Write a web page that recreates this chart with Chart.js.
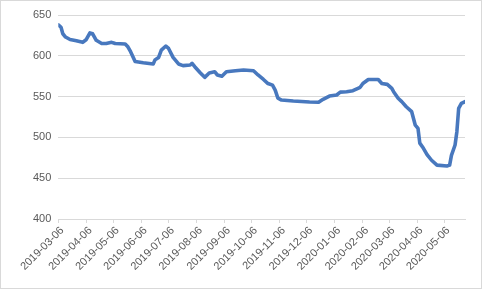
<!DOCTYPE html>
<html>
<head>
<meta charset="utf-8">
<script src="https://cdn.jsdelivr.net/npm/chart.js@4.4.1/dist/chart.umd.min.js"></script>
<style>
  html, body { margin: 0; padding: 0; background: #fff; }
  #box { position: absolute; left: 0; top: 0; width: 480px; height: 287px; border: 1px solid #d9d9d9; }
  canvas { display: block; }
</style>
</head>
<body>
<div id="box"><canvas id="myChart" width="480" height="287"></canvas></div>
<script>
const dates = [
  '2019-03-06', '2019-03-09', '2019-03-11', '2019-03-14', '2019-03-19', '2019-03-26',
  '2019-04-02', '2019-04-06', '2019-04-10', '2019-04-13', '2019-04-17', '2019-04-23', '2019-04-28',
  '2019-05-04', '2019-05-08', '2019-05-19', '2019-05-22', '2019-05-25', '2019-05-30',
  '2019-06-08', '2019-06-19', '2019-06-21', '2019-06-25', '2019-06-28',
  '2019-07-03', '2019-07-06', '2019-07-11', '2019-07-17', '2019-07-22', '2019-07-30',
  '2019-08-01', '2019-08-04', '2019-08-10', '2019-08-15', '2019-08-20', '2019-08-26', '2019-08-29',
  '2019-09-03', '2019-09-08', '2019-09-18', '2019-09-27',
  '2019-10-08', '2019-10-13', '2019-10-19', '2019-10-24', '2019-10-29',
  '2019-11-01', '2019-11-04', '2019-11-08', '2019-11-21',
  '2019-12-09', '2019-12-19', '2019-12-24', '2019-12-31',
  '2020-01-08', '2020-01-12', '2020-01-19', '2020-01-26',
  '2020-02-03', '2020-02-06', '2020-02-12', '2020-02-23', '2020-02-27',
  '2020-03-04', '2020-03-09', '2020-03-11', '2020-03-16', '2020-03-20', '2020-03-25', '2020-03-31',
  '2020-04-04', '2020-04-07', '2020-04-09', '2020-04-13', '2020-04-17', '2020-04-22', '2020-04-28',
  '2020-05-09', '2020-05-12', '2020-05-14', '2020-05-18', '2020-05-20', '2020-05-22', '2020-05-25', '2020-05-29'
];
const values = [
  638, 635, 627, 623, 620, 618.5,
  616.5, 620, 628, 627, 619, 615, 615,
  616.5, 615, 614.5, 611, 605, 593,
  591.5, 590, 595, 598, 607,
  612, 609, 598, 590, 588, 588.7,
  590.8, 586.6, 579.3, 573.6, 579, 580.5, 576.5,
  575, 580.5, 581.7, 582.6,
  581.7, 576.5, 571, 566, 564,
  558, 548, 545.8, 544.6,
  543.4, 543, 546.7, 550.7,
  552, 555.5, 556, 557.2,
  561.4, 566, 571, 571, 566,
  565, 560, 556, 548, 543.8, 537.6, 531.5,
  515, 511, 493, 486.6, 479, 472, 466,
  465, 466, 478, 490.7, 507, 535.7, 541.8, 543.8
];
const tickLabels = [
  '2019-03-06', '2019-04-06', '2019-05-06', '2019-06-06', '2019-07-06', '2019-08-06',
  '2019-09-06', '2019-10-06', '2019-11-06', '2019-12-06', '2020-01-06', '2020-02-06',
  '2020-03-06', '2020-04-06', '2020-05-06'
];
const lastDate = '2020-05-29';

// days since first date
function dayNum(s) {
  const p = s.split('-').map(Number);
  return Math.round((Date.UTC(p[0], p[1] - 1, p[2]) - Date.UTC(2019, 2, 6)) / 86400000);
}

const points = dates.map((d, i) => ({ x: dayNum(d), y: values[i] }));
const tickDays = tickLabels.map(dayNum);

const ctx = document.getElementById('myChart').getContext('2d');
const myChart = new Chart(ctx, {
    type: 'line',
    data: {
        datasets: [{
            data: points,
            borderColor: '#4878BE',
            borderWidth: 3.6,
            pointRadius: 0,
            tension: 0,
            borderJoinStyle: 'round',
            borderCapStyle: 'round'
        }]
    },
    options: {
        responsive: false,
        animation: false,
        layout: {
            padding: { left: 0, right: 16, top: 14, bottom: 0 }
        },
        scales: {
            x: {
                type: 'linear',
                min: 0,
                max: dayNum(lastDate),
                afterBuildTicks: function (scale) {
                    scale.ticks = tickDays.map(v => ({ value: v }));
                },
                afterFit: function (scale) {
                    scale.height = 69;
                },
                ticks: {
                    autoSkip: false,
                    minRotation: 45,
                    maxRotation: 45,
                    padding: 1,
                    labelOffset: 4,
                    color: '#595959',
                    font: { family: 'Liberation Sans', size: 11 },
                    callback: function (value) {
                        const i = tickDays.indexOf(value);
                        return i >= 0 ? tickLabels[i] : null;
                    }
                },
                grid: {
                    drawOnChartArea: false,
                    drawTicks: true,
                    tickLength: 4,
                    color: '#d9d9d9'
                },
                border: { display: true, color: '#d9d9d9' }
            },
            y: {
                min: 400,
                max: 650,
                afterFit: function (scale) {
                    scale.width = 57.3;
                },
                ticks: {
                    stepSize: 50,
                    padding: 7,
                    color: '#595959',
                    font: { family: 'Liberation Sans', size: 11 }
                },
                grid: {
                    drawTicks: false,
                    color: '#d9d9d9'
                },
                border: { display: false }
            }
        },
        plugins: {
            legend: { display: false },
            tooltip: { enabled: false }
        }
    }
});
</script>
</body>
</html>
